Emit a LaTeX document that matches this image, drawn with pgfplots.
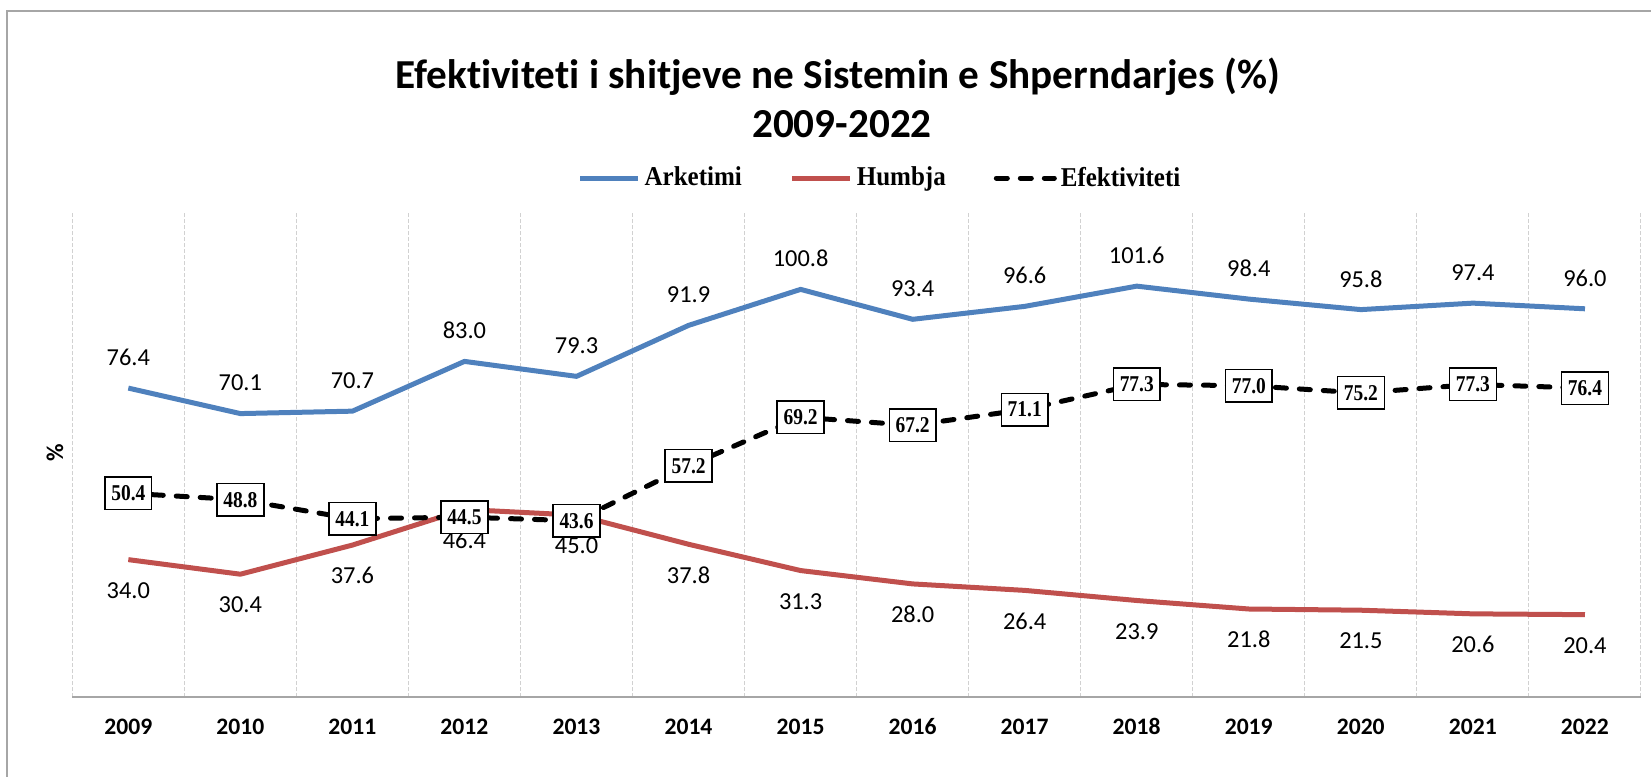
\documentclass[border=0pt]{standalone}
\usepackage{fontspec}
\setmainfont{Carlito}[Ligatures={NoCommon}]
\newfontfamily\tnr{Liberation Serif}[FakeStretch=0.92]
\newfontfamily\tnrn{Liberation Serif}[FakeStretch=0.86]
\usepackage{pgfplots}
\pgfplotsset{compat=1.18}
\definecolor{arkblue}{HTML}{4F81BD}
\definecolor{humred}{HTML}{C0504D}
\definecolor{framegray}{HTML}{A6A6A6}

\begin{document}
\begin{tikzpicture}
\useasboundingbox (0,0) rectangle (825.5pt,388.5pt);
% chart frame (only left and top edges are inside the picture)
\draw[framegray, line width=1pt] (3.45pt,-5pt) -- (3.45pt,382.75pt) -- (835pt,382.75pt);
\node[anchor=base, font=\fontsize{20.6}{24}\selectfont\bfseries] at (418.85pt,344pt)
  {Efektiviteti i shitjeve ne Sistemin e Shperndarjes (\%)};
\node[anchor=base, font=\fontsize{20.6}{24}\selectfont\bfseries] at (421pt,319.65pt) {2009-2022};
\node[rotate=90, font=\fontsize{12}{14}\selectfont\bfseries] at (27.5pt,162pt) {\%};

\begin{axis}[
  at={(36.15pt,39.9pt)}, anchor=south west,
  scale only axis, width=784.35pt, height=242.75pt,
  xmin=2008.5, xmax=2022.5, ymin=0, ymax=120,
  axis x line=bottom, axis y line=none,
  x axis line style={-, draw=framegray, line width=1pt},
  xtick={2009,...,2022}, ytick=\empty,
  major tick length=0pt, minor tick length=0pt,
  minor xtick={2008.5,2009.5,...,2022.5},
  xminorgrids=true, xmajorgrids=false,
  minor grid style={black!18, line width=0.6pt, dash pattern=on 2pt off 1pt},
  /pgf/number format/assume math mode=true,
  xticklabel style={/pgf/number format/1000 sep={}, font=\fontsize{11.8}{14}\selectfont\bfseries,
    anchor=center, yshift=-14.75pt},
  legend style={at={(0.5155,1.0694)}, anchor=center, draw=none, fill=none,
    legend columns=-1, font=\tnr\fontsize{13.6}{16}\selectfont\bfseries,
    /tikz/every even column/.append style={column sep=22pt}},
  legend image code/.code={\draw[#1] (0pt,0pt) -- (29pt,0pt);},
  clip=false,
]
\addplot[arkblue, line width=2.5pt, line join=round,
  nodes near coords={\pgfmathprintnumber[fixed,fixed zerofill,precision=1]{\pgfplotspointmeta}},
  every node near coord/.append style={anchor=center, yshift=15.35pt, text=black,
    font=\fontsize{12.2}{14}\selectfont}]
  coordinates {(2009,76.4)(2010,70.1)(2011,70.7)(2012,83.0)(2013,79.3)(2014,91.9)(2015,100.8)
    (2016,93.4)(2017,96.6)(2018,101.6)(2019,98.4)(2020,95.8)(2021,97.4)(2022,96.0)};
\addlegendentry{Arketimi}
\addplot[humred, line width=2.5pt, line join=round,
  nodes near coords={\pgfmathprintnumber[fixed,fixed zerofill,precision=1]{\pgfplotspointmeta}},
  every node near coord/.append style={anchor=center, yshift=-15.35pt, text=black,
    font=\fontsize{12.2}{14}\selectfont}]
  coordinates {(2009,34.0)(2010,30.4)(2011,37.6)(2012,46.4)(2013,45.0)(2014,37.8)(2015,31.3)
    (2016,28.0)(2017,26.4)(2018,23.9)(2019,21.8)(2020,21.5)(2021,20.6)(2022,20.4)};
\addlegendentry{Humbja}
\addplot[black, line width=2.5pt, line cap=round, dash pattern=on 5.5pt off 6.5pt,
  nodes near coords={\pgfmathprintnumber[fixed,fixed zerofill,precision=1]{\pgfplotspointmeta}},
  every node near coord/.append style={anchor=center, draw=black, solid, line width=0.75pt,
    fill=white, text=black, inner xsep=3.2pt, inner ysep=4.3pt,
    font=\tnrn\fontsize{11.3}{13}\selectfont\bfseries}]
  coordinates {(2009,50.4)(2010,48.8)(2011,44.1)(2012,44.5)(2013,43.6)(2014,57.2)(2015,69.2)
    (2016,67.2)(2017,71.1)(2018,77.3)(2019,77.0)(2020,75.2)(2021,77.3)(2022,76.4)};
\addlegendentry{Efektiviteti}
\end{axis}
\end{tikzpicture}
\end{document}
